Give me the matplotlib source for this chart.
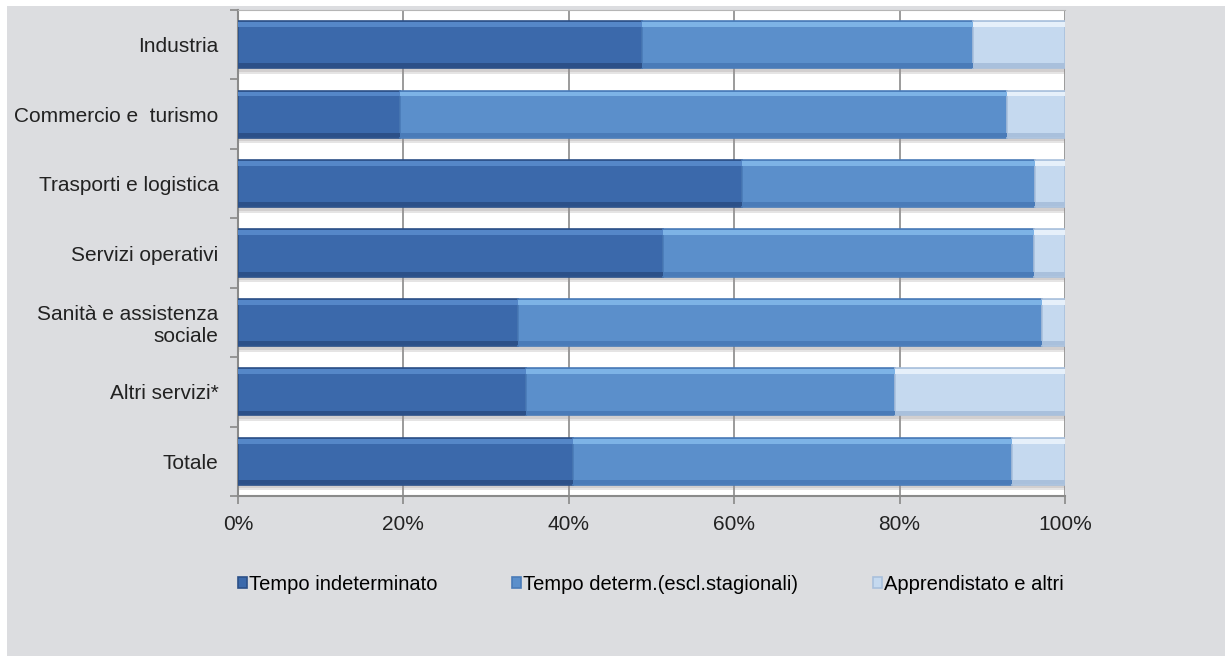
import numpy as np
import matplotlib.pyplot as plt
from matplotlib.patches import Rectangle

# Dati (quote percentuali per settore)
settori = ['Industria', 'Commercio e  turismo', 'Trasporti e logistica',
           'Servizi operativi', 'Sanità e assistenza\nsociale', 'Altri servizi*', 'Totale']
tempo_indeterminato = [48.9, 19.6, 60.9, 51.4, 33.9, 34.8, 40.5]
tempo_determinato = [40.0, 73.4, 35.5, 44.8, 63.3, 44.6, 53.1]
apprendistato = [11.1, 7.0, 3.6, 3.8, 2.8, 20.6, 6.4]
serie_nomi = ['Tempo indeterminato', 'Tempo determ.(escl.stagionali)', 'Apprendistato e altri']
tick_pct = [0, 20, 40, 60, 80, 100]

colori = ['#3b69ab', '#5b8fcb', '#c5d9ef']
chiari = ['#5587c8', '#7db3e6', '#e6f0fa']
scuri = ['#2c5088', '#4a7bb8', '#a9c0dc']

plt.rcParams['font.family'] = ['Liberation Sans', 'DejaVu Sans']

fig = plt.figure(figsize=(12.28, 6.56), dpi=100, facecolor='white')
# pannello grigio di sfondo
fig.patches.append(Rectangle((7 / 1228, 0), 1218 / 1228, 1 - 6 / 656,
                             transform=fig.transFigure, facecolor='#dcdde0',
                             edgecolor='none', zorder=-10))

ax = fig.add_axes([238 / 1228, 1 - 496 / 656, 827 / 1228, 486 / 656])
ax.set_facecolor('white')

y = np.arange(len(settori))
h = 0.68
serie = [tempo_indeterminato, tempo_determinato, apprendistato]

# ombra sotto le barre
totale = np.sum(serie, axis=0)
ax.barh(y + 0.08, totale, height=h, color='#9a9494', alpha=0.25,
        edgecolor='none', zorder=1)
ax.barh(y + 0.05, totale, height=h, color='#9a9494', alpha=0.25,
        edgecolor='none', zorder=1)

sinistra = np.zeros(len(settori))
for vals, col, ch, sc, nome in zip(serie, colori, chiari, scuri, serie_nomi):
    ax.barh(y, vals, left=sinistra, height=h, color=col, edgecolor=sc,
            linewidth=1.2, label=nome, zorder=3)
    # effetto rilievo: bordo chiaro sopra, scuro sotto
    ax.barh(y - h / 2 + 0.05, vals, left=sinistra, height=0.07, color=ch,
            edgecolor='none', zorder=4)
    ax.barh(y + h / 2 - 0.04, vals, left=sinistra, height=0.06, color=sc,
            edgecolor='none', zorder=4)
    sinistra += np.array(vals)

ax.set_xlim(0, 100)
ax.set_ylim(len(settori) - 0.5, -0.5)
ax.set_xticks(tick_pct)
ax.set_xticklabels([f'{t}%' for t in tick_pct], fontsize=15, color='#222222')
ax.set_yticks(y)
ax.set_yticklabels(settori, fontsize=15, color='#222222', ha='right')
ax.set_yticks(np.arange(-0.5, len(settori)), minor=True)
ax.tick_params(axis='y', which='major', length=0, pad=14)
ax.tick_params(axis='y', which='minor', length=6, color='#888888', width=1.2)
ax.tick_params(axis='x', length=6, color='#888888', width=1.2, pad=8)

ax.grid(axis='x', color='#8a8a8a', linewidth=1.2, zorder=0)
ax.set_axisbelow(True)
for lato in ['left', 'bottom']:
    ax.spines[lato].set_color('#8a8a8a')
    ax.spines[lato].set_linewidth(1.5)
ax.spines['top'].set_color('#b5b5b5')
ax.spines['right'].set_visible(False)

fig.legend(loc='center', bbox_to_anchor=(0.530, 1 - 584 / 656), ncol=3,
           frameon=False, handlelength=0.45, handleheight=0.45,
           handletextpad=0.1, columnspacing=3.7,
           prop={'family': 'Liberation Sans', 'size': 14.5})

fig.savefig('out.png', dpi=100, facecolor=fig.get_facecolor())
